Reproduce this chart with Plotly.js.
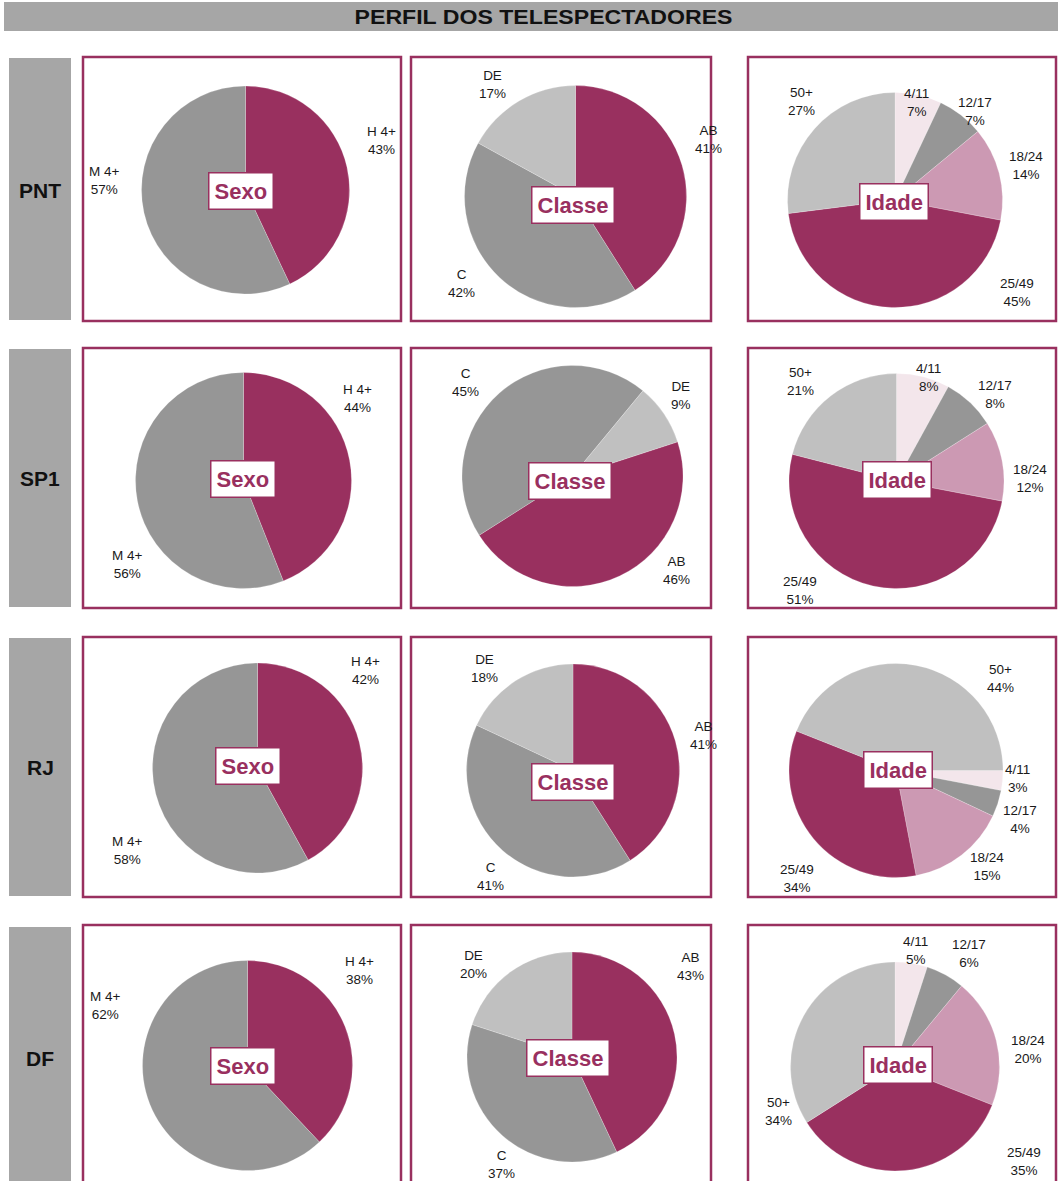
<!DOCTYPE html>
<html>
<head>
<meta charset="utf-8">
<script src="https://cdn.plot.ly/plotly-3.0.1.min.js"></script>
<style>
  html, body { margin: 0; padding: 0; background: #ffffff; }
  #chart { width: 1058px; height: 1181px; }
</style>
</head>
<body>
<div id="chart"></div>
<script>
// ---------------- DATA ----------------
const chartTitle = 'PERFIL DOS TELESPECTADORES';
const regions = ['PNT', 'SP1', 'RJ', 'DF'];
const groupNames = ['Sexo', 'Classe', 'Idade'];

const sexoLabels = ['H 4+', 'M 4+'];
const sexoValues = [
  [43, 57],
  [44, 56],
  [42, 58],
  [38, 62]
];

const classeLabels = ['AB', 'C', 'DE'];
const classeValues = [
  [41, 42, 17],
  [46, 45, 9],
  [41, 41, 18],
  [43, 37, 20]
];

const idadeLabels = ['4/11', '12/17', '18/24', '25/49', '50+'];
const idadeValues = [
  [7, 7, 14, 45, 27],
  [8, 8, 12, 51, 21],
  [3, 4, 15, 34, 44],
  [5, 6, 20, 35, 34]
];

// ---------------- STYLE / LAYOUT ----------------
const W = 1058, H = 1181;
const PLUM = '#99305f';
const GRAY = '#969696';
const LGRAY = '#c0c0c0';
const PINK = '#cc99b3';
const PALE = '#f3e6eb';

const sexoColors = [PLUM, GRAY];
const classeColors = [PLUM, GRAY, LGRAY];
const idadeColors = [PALE, GRAY, PINK, PLUM, LGRAY];

// panel frames
const colX = [[83, 401], [411, 711], [748, 1056]];
const rowY = [[57, 321], [348, 608], [637, 897], [925, 1188]];
const labelBoxX = [9, 71];
const labelBoxY = [[58, 320], [349, 607], [638, 896], [927, 1190]];
const rowLabelY = [190, 479, 768, 1058];

// pie geometry: [cx, cy, r] per row, per group
const pieGeom = [
  [[245.5, 190, 104], [575.5, 196.5, 111], [895, 200, 107.5]],
  [[243.5, 480.5, 108], [572.5, 476, 110.5], [896.5, 481, 107.5]],
  [[257.5, 768, 105], [573, 770.5, 106.5], [896, 770.5, 107]],
  [[247.5, 1065.5, 105], [572, 1057, 105], [895, 1066.5, 104.5]]
];
// first-slice angle (clockwise from 12 o'clock)
const rotations = [
  [0, 0, 0],
  [0, 72, 0],
  [0, 0, 90],
  [0, 0, 0]
];
// center tag positions
const tagPos = [
  [[241, 191], [573, 205], [894, 202]],
  [[243, 479], [570, 481], [897, 480]],
  [[248, 766], [573, 782], [898, 770]],
  [[243, 1066], [568, 1058], [898, 1065]]
];
// slice label positions (same order as labels)
const sexoLabelPos = [
  [[381, 141], [104, 181]],
  [[357, 398], [127, 564]],
  [[366, 670], [127, 850]],
  [[359, 970], [105, 1005]]
];
const classeLabelPos = [
  [[708, 139], [461, 283], [492, 85]],
  [[676, 570], [465, 383], [681, 396]],
  [[703, 735], [490, 876], [484, 668]],
  [[690, 967], [501, 1164], [473, 964]]
];
const idadeLabelPos = [
  [[916, 103], [975, 112], [1026, 165], [1017, 293], [801, 101]],
  [[929, 378], [995, 394], [1030, 478], [800, 590], [800, 381]],
  [[1017, 778], [1020, 819], [987, 866], [797, 878], [1000, 678]],
  [[915, 950], [969, 953], [1028, 1049], [1024, 1161], [778, 1111]]
];

const px = x => x / W;
const py = y => 1 - y / H;

const groups = [
  { labels: sexoLabels, values: sexoValues, colors: sexoColors, pos: sexoLabelPos },
  { labels: classeLabels, values: classeValues, colors: classeColors, pos: classeLabelPos },
  { labels: idadeLabels, values: idadeValues, colors: idadeColors, pos: idadeLabelPos }
];

const traces = [];
const shapes = [];
const annotations = [];

// title bar
shapes.push({ type: 'rect', xref: 'paper', yref: 'paper', x0: px(4), x1: px(1060), y0: py(31), y1: py(2),
  fillcolor: '#a6a6a6', line: { width: 0 }, layer: 'below' });
annotations.push({ xref: 'paper', yref: 'paper', x: px(543), y: py(17), text: '<b>' + chartTitle + '</b>',
  showarrow: false, xanchor: 'center', yanchor: 'middle', name: 'charttitle',
  font: { family: 'Liberation Sans, Arial, sans-serif', size: 20, color: '#111111' } });

regions.forEach((reg, ri) => {
  // row label box
  shapes.push({ type: 'rect', xref: 'paper', yref: 'paper', x0: px(labelBoxX[0]), x1: px(labelBoxX[1]),
    y0: py(labelBoxY[ri][1]), y1: py(labelBoxY[ri][0]), fillcolor: '#a6a6a6', line: { width: 0 }, layer: 'below' });
  annotations.push({ xref: 'paper', yref: 'paper', x: px((labelBoxX[0] + labelBoxX[1]) / 2),
    y: py(rowLabelY[ri]),
    text: '<b>' + reg + '</b>', showarrow: false, xanchor: 'center', yanchor: 'middle',
    font: { family: 'Liberation Sans, Arial, sans-serif', size: 21, color: '#111111' } });

  groups.forEach((g, gi) => {
    // panel frame
    shapes.push({ type: 'rect', xref: 'paper', yref: 'paper', x0: px(colX[gi][0]), x1: px(colX[gi][1]),
      y0: py(rowY[ri][1]), y1: py(rowY[ri][0]), line: { color: PLUM, width: 2.5 }, fillcolor: 'rgba(0,0,0,0)', layer: 'below' });

    const [cx, cy, r] = pieGeom[ri][gi];
    traces.push({
      type: 'pie',
      labels: g.labels,
      values: g.values[ri],
      sort: false,
      direction: 'clockwise',
      rotation: rotations[ri][gi],
      textinfo: 'none',
      hoverinfo: 'label+percent',
      showlegend: false,
      marker: { colors: g.colors, line: { color: 'rgba(255,255,255,0.35)', width: 0.6 } },
      domain: { x: [px(cx - r), px(cx + r)], y: [py(cy + r), py(cy - r)] }
    });

    // slice labels
    g.labels.forEach((lab, li) => {
      const [lx, ly] = g.pos[ri][li];
      annotations.push({ xref: 'paper', yref: 'paper', x: px(lx), y: py(ly),
        text: lab + '<br>' + g.values[ri][li] + '%', showarrow: false, xanchor: 'center', yanchor: 'middle',
        align: 'center', font: { family: 'Liberation Sans, Arial, sans-serif', size: 13.5, color: '#1a1a1a' } });
    });

    // center tag
    const [tx, ty] = tagPos[ri][gi];
    annotations.push({ xref: 'paper', yref: 'paper', x: px(tx), y: py(ty), text: '<b>' + groupNames[gi] + '</b>',
      showarrow: false, xanchor: 'center', yanchor: 'middle', bgcolor: '#ffffff', bordercolor: PLUM,
      borderwidth: 1.5, borderpad: 5, font: { family: 'Liberation Sans, Arial, sans-serif', size: 22, color: PLUM } });
  });
});

const layout = {
  width: W, height: H,
  margin: { l: 0, r: 0, t: 0, b: 0 },
  paper_bgcolor: '#ffffff', plot_bgcolor: '#ffffff',
  showlegend: false,
  shapes: shapes,
  annotations: annotations
};

Plotly.newPlot('chart', traces, layout, { displayModeBar: false, staticPlot: true }).then(() => {
  // stretch the title text slightly to the reference's width (text stays real text)
  document.querySelectorAll('#chart .annotation-text').forEach(el => {
    if (el.textContent === chartTitle) {
      el.setAttribute('textLength', '378');
      el.setAttribute('lengthAdjust', 'spacingAndGlyphs');
    }
  });
});
</script>
</body>
</html>
